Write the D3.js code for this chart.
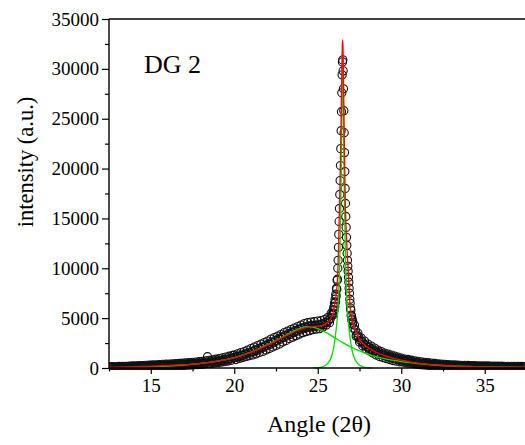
<!DOCTYPE html>
<html>
<head>
<meta charset="utf-8">
<script src="https://cdn.jsdelivr.net/npm/d3@7/dist/d3.min.js"></script>
<style>
html,body{margin:0;padding:0;background:#fff;}
svg{display:block;}
text{font-family:"Liberation Serif","Times New Roman",serif;fill:#000;}
</style>
</head>
<body>
<svg id="chart" width="525" height="445"></svg>
<script>
// ---- data ----
const xTicks = [15, 20, 25, 30, 35];
const xMinorTicks = [12.5, 17.5, 22.5, 27.5, 32.5];
const yTicks = [0, 5000, 10000, 15000, 20000, 25000, 30000, 35000];
const yMinorTicks = [2500, 7500, 12500, 17500, 22500, 27500, 32500];
const sampleLabel = "DG 2";
const xTitle = "Angle (2θ)";
const yTitle = "intensity (a.u.)";

// observed XRD pattern: [angle, counts]
const observedMain = [
[12.5,110],[12.6,30],[12.7,140],[12.8,50],[12.9,120],[13.0,20],[13.1,150],[13.2,60],[13.3,170],[13.4,40],
[13.5,160],[13.6,70],[13.7,190],[13.8,60],[13.9,200],[14.0,80],[14.1,210],[14.2,70],[14.3,230],[14.4,100],
[14.5,240],[14.6,90],[14.7,260],[14.8,120],[14.9,280],[15.0,110],[15.1,300],[15.2,140],[15.3,320],[15.4,150],
[15.5,340],[15.6,160],[15.7,360],[15.8,170],[15.9,380],[16.0,190],[16.1,390],[16.2,200],[16.3,410],[16.4,220],
[16.5,430],[16.6,230],[16.7,450],[16.8,250],[16.9,480],[17.0,260],[17.1,500],[17.2,280],[17.3,530],[17.4,300],
[17.5,560],[17.6,320],[17.7,590],[17.8,340],[17.9,630],[18.0,360],[18.1,670],[18.2,390],[18.3,720],[18.4,1130],[18.45,430],
[18.5,770],[18.6,460],[18.7,820],[18.8,500],[18.9,880],[19.0,540],[19.1,950],[19.2,580],[19.3,1020],[19.4,630],
[19.5,1100],[19.6,690],[19.7,1180],[19.8,760],[19.9,1260],
[20.0,1300],[20.1,850],[20.2,1420],[20.3,960],[20.4,1550],[20.5,1050],[20.6,1650],[20.7,1140],[20.8,1800],[20.9,1240],
[21.0,1950],[21.1,1320],[21.2,2100],[21.3,1420],[21.4,2250],[21.5,1560],[21.6,2400],[21.7,1660],[21.8,2550],[21.9,1800],
[22.0,2700],[22.1,1950],[22.2,2900],[22.3,2100],[22.4,3050],[22.5,2250],[22.6,3200],[22.7,2400],[22.8,3350],[22.9,2600],
[23.0,3550],[23.1,2750],[23.2,3700],[23.3,2950],[23.4,3850],[23.5,3100],[23.6,4000],[23.7,3250],[23.8,4150],[23.9,3400],
[24.0,4300],[24.1,3550],[24.2,4450],[24.3,3650],[24.4,4550],[24.5,3750],[24.6,4600],[24.7,3850],[24.8,4650],[24.9,3900],
[25.0,4700],[25.1,3950],[25.2,4750],[25.3,4100],[25.4,4850],[25.5,4300],[25.6,5050],[25.7,4550],[25.8,5450],[25.9,5300],
[25.92,5800],[25.94,5500],[25.96,6100],[25.98,5800],[26.00,6500],[26.02,6200],[26.04,6900],[26.06,6600],[26.08,7400],[26.10,7200],
[26.12,8000],[26.14,7900],[26.16,8800],[26.18,8900],[26.20,10000],[26.22,10800],[26.24,12100],[26.26,13400],[26.28,14700],[26.30,16000],
[26.32,17400],[26.34,18800],[26.36,20300],[26.38,22000],[26.40,23800],[26.42,25700],[26.44,27600],[26.46,29400],[26.48,30700],[26.50,30900],
[26.52,29800],[26.54,28000],[26.56,25800],[26.58,23600],[26.60,21600],[26.62,19700],[26.64,18000],[26.66,16500],[26.68,15200],[26.70,14100],
[26.72,13100],[26.74,12300],[26.76,11500],[26.78,10800],[26.80,10200],[26.82,9700],[26.84,9100],[26.86,8600],[26.88,8000],[26.90,7500],
[26.92,6900],[26.94,6500],[26.96,6000],[26.98,5800],[27.00,5300],[27.02,5200],[27.04,4800],[27.06,4900],[27.08,4400],[27.10,4600],
[27.2,4300],[27.3,3200],[27.4,3500],[27.5,2600],[27.6,3000],[27.7,2200],[27.8,2700],[27.9,1900],[28.0,2400],[28.1,1700],
[28.2,2200],[28.3,1500],[28.4,2000],[28.5,1300],[28.6,1800],[28.7,1150],[28.8,1650],[28.9,1050],[29.0,1500],[29.1,950],
[29.2,1400],[29.3,850],[29.4,1300],[29.5,750],[29.6,1200],[29.7,680],[29.8,1100],[29.9,620],[30.0,1000],
[30.1,600],[30.2,900],[30.3,520],[30.4,850],[30.5,480],[30.6,780],[30.7,430],[30.8,720],[30.9,390],[31.0,660],
[31.1,350],[31.2,620],[31.3,310],[31.4,570],[31.5,280],[31.6,530],[31.7,250],[31.8,490],[31.9,230],[32.0,450],
[32.1,200],[32.2,420],[32.3,180],[32.4,390],[32.5,170],[32.6,360],[32.7,150],[32.8,340],[32.9,140],[33.0,320],
[33.1,130],[33.2,300],[33.3,120],[33.4,290],[33.5,110],[33.6,270],[33.7,100],[33.8,260],[33.9,90],[34.0,250],
[34.1,90],[34.2,240],[34.3,80],[34.4,230],[34.5,80],[34.6,220],[34.7,70],[34.8,210],[34.9,70],[35.0,200],
[35.1,60],[35.2,200],[35.3,60],[35.4,190],[35.5,50],[35.6,190],[35.7,50],[35.8,180],[35.9,50],[36.0,180],
[36.1,40],[36.2,170],[36.3,40],[36.4,170],[36.5,40],[36.6,160],[36.7,30],[36.8,160],[36.9,30],[37.0,150],
[37.1,30],[37.2,150],[37.3,30],[37.4,140],[37.5,30]
];

// observed points between the main steps
const observedHalf = [
[12.55,80],[12.65,60],[12.75,95],[12.85,70],[12.95,100],[13.05,75],[13.15,110],[13.25,80],[13.35,120],[13.45,90],
[13.55,130],[13.65,100],[13.75,140],[13.85,110],[13.95,150],[14.05,120],[14.15,160],[14.25,130],[14.35,170],[14.45,140],
[14.55,185],[14.65,150],[14.75,195],[14.85,160],[14.95,210],[15.05,175],[15.15,220],[15.25,185],[15.35,235],[15.45,200],
[15.55,250],[15.65,215],[15.75,265],[15.85,230],[15.95,280],[16.05,245],[16.15,300],[16.25,260],[16.35,315],[16.45,275],
[16.55,330],[16.65,290],[16.75,350],[16.85,310],[16.95,370],[17.05,330],[17.15,390],[17.25,350],[17.35,410],[17.45,370],
[17.55,430],[17.65,390],[17.75,460],[17.85,420],[17.95,490],[18.05,450],[18.15,530],[18.25,480],[18.35,570],[18.55,610],
[18.65,560],[18.75,660],[18.85,610],[18.95,710],[19.05,660],[19.15,770],[19.25,720],[19.35,830],[19.45,780],[19.55,890],
[19.65,850],[19.75,970],[19.85,920],[19.95,1040],[20.05,1090],[20.15,1060],[20.25,1190],[20.35,1160],[20.45,1300],[20.55,1260],
[20.65,1420],[20.75,1390],[20.85,1550],[20.95,1500],[21.05,1670],[21.15,1630],[21.25,1810],[21.35,1770],[21.45,1950],[21.55,1900],
[21.65,2100],[21.75,2060],[21.85,2260],[21.95,2210],[22.05,2420],[22.15,2370],[22.25,2600],[22.35,2540],[22.45,2770],[22.55,2700],
[22.65,2940],[22.75,2880],[22.85,3110],[22.95,3050],[23.05,3280],[23.15,3210],[23.25,3440],[23.35,3370],[23.45,3600],[23.55,3530],
[23.65,3750],[23.75,3680],[23.85,3890],[23.95,3820],[24.05,4020],[24.15,3940],[24.25,4130],[24.35,4040],[24.45,4210],[24.55,4100],
[24.65,4260],[24.75,4130],[24.85,4290],[24.95,4180],[25.05,4330],[25.15,4230],[25.25,4400],[25.35,4350],[25.45,4550],[25.55,4560],
[25.65,4800],[25.75,4950],[25.85,5350],
[27.15,4000],[27.25,3800],[27.35,3300],[27.45,3100],[27.55,2750],[27.65,2650],[27.75,2380],[27.85,2300],[27.95,2100],[28.05,2080],
[28.15,1880],[28.25,1880],[28.35,1700],[28.45,1700],[28.55,1530],[28.65,1540],[28.75,1390],[28.85,1400],[28.95,1250],[29.05,1260],
[29.15,1130],[29.25,1160],[29.35,1030],[29.45,1060],[29.55,940],[29.65,970],[29.75,860],[29.85,890],[29.95,780],[30.05,800],
[30.15,720],[30.25,760],[30.35,660],[30.45,690],[30.55,590],[30.65,610],[30.75,530],[30.85,560],[30.95,480],[31.05,510],
[31.15,440],[31.25,470],[31.35,400],[31.45,430],[31.55,360],[31.65,390],[31.75,340],[31.85,360],[31.95,300],[32.05,330],
[32.15,280],[32.25,305],[32.35,260],[32.45,285],[32.55,240],[32.65,265],[32.75,220],[32.85,245],[32.95,200],[33.05,225],
[33.15,185],[33.25,210],[33.35,175],[33.45,200],[33.55,165],[33.65,190],[33.75,150],[33.85,175],[33.95,140],[34.05,165],
[34.15,130],[34.25,155],[34.35,125],[34.45,145],[34.55,115],[34.65,140],[34.75,110],[34.85,130],[34.95,100],[35.05,125],
[35.15,95],[35.25,120],[35.35,90],[35.45,115],[35.55,85],[35.65,110],[35.75,80],[35.85,105],[35.95,75],[36.05,100],
[36.15,70],[36.25,95],[36.35,65],[36.45,90],[36.55,60],[36.65,85],[36.75,60],[36.85,80],[36.95,55],[37.05,80],
[37.15,55],[37.25,75],[37.35,50],[37.45,70]
];

// total fit (red)
const fitTotal = [
[12.5,60],[13.5,100],[14.5,150],[15.5,210],[16.5,290],[17.5,390],[18.0,460],[18.5,560],[19.0,680],[19.5,830],
[20.0,1020],[20.5,1280],[21.0,1580],[21.5,1920],[22.0,2300],[22.5,2720],[23.0,3150],[23.5,3550],[24.0,3900],[24.3,4060],
[24.6,4150],[25.0,4200],[25.3,4280],[25.5,4450],[25.7,4750],[25.9,5400],[26.0,6200],[26.1,7300],[26.16,8350],[26.2,9600],
[26.24,11800],[26.28,14500],[26.32,17600],[26.36,20800],[26.40,25000],[26.44,29500],[26.47,32300],[26.49,32900],[26.51,32300],[26.54,29500],
[26.57,25200],[26.61,20500],[26.65,16500],[26.70,14000],[26.75,12000],[26.80,10500],[26.85,9000],[26.90,7200],[26.95,6000],[27.0,5200],
[27.1,4450],[27.25,3700],[27.5,2850],[27.8,2300],[28.1,1950],[28.5,1580],[29.0,1230],[29.5,980],[30.0,780],[30.5,620],
[31.0,490],[31.5,390],[32.0,310],[33.0,210],[34.0,150],[35.0,110],[36.0,80],[37.5,60]
];

// broad (amorphous) component, green
const fitBroad = [
[12.5,20],[14.0,60],[15.0,110],[16.0,190],[17.0,300],[18.0,460],[19.0,700],[20.0,1050],[21.0,1600],[22.0,2350],
[23.0,3200],[23.5,3650],[24.0,4000],[24.3,4150],[24.6,4120],[25.0,3950],[25.5,3550],[26.0,3050],[26.5,2550],[27.0,2100],
[27.5,1720],[28.0,1400],[28.5,1150],[29.0,940],[29.5,780],[30.0,640],[30.5,530],[31.0,440],[32.0,300],[33.0,210],
[34.0,150],[35.0,110],[36.0,80],[37.5,55]
];

// sharp (graphitic 002) component, green
const fitSharp = [
[24.74,0],[24.99,20],[25.29,120],[25.59,450],[25.79,1000],[25.94,1900],[26.04,3000],[26.13,4300],[26.19,5500],[26.24,7000],
[26.29,9200],[26.33,11800],[26.36,14500],[26.39,17800],[26.41,20500],[26.43,23500],[26.45,26500],[26.47,29000],[26.49,30200],[26.51,29000],
[26.53,26500],[26.55,23500],[26.57,20500],[26.59,17800],[26.62,14500],[26.65,11800],[26.69,9200],[26.74,7000],[26.79,5500],[26.85,4300],
[26.94,3000],[27.04,1900],[27.19,1000],[27.39,450],[27.69,120],[27.99,20],[28.24,0]
];

// ---- drawing ----
const svg = d3.select("#chart");
const mLeft = 109, mTop = 19, mBottom = 368, mRight = 526.5;
const x = d3.scaleLinear().domain([12.5, 37.5]).range([mLeft, mRight]);
const y = d3.scaleLinear().domain([0, 35000]).range([mBottom, mTop]);

svg.append("defs").append("clipPath").attr("id", "plotclip")
  .append("rect").attr("x", mLeft).attr("y", mTop).attr("width", 525 - mLeft).attr("height", mBottom - mTop + 2);

const plot = svg.append("g").attr("clip-path", "url(#plotclip)");

const observed = observedMain.concat(observedHalf);
plot.append("g").selectAll("circle").data(observed).join("circle")
  .attr("cx", d => x(d[0])).attr("cy", d => y(d[1])).attr("r", 4.1)
  .attr("fill", "none").attr("stroke", "#111").attr("stroke-width", 1.1);

const line = d3.line().x(d => x(d[0])).y(d => y(d[1])).curve(d3.curveMonotoneX);

plot.append("path").datum(fitBroad).attr("d", line)
  .attr("fill", "none").attr("stroke", "#00e000").attr("stroke-width", 1.3);
plot.append("path").datum(fitSharp).attr("d", line)
  .attr("fill", "none").attr("stroke", "#00e000").attr("stroke-width", 1.3);
plot.append("path").datum(fitTotal).attr("d", line)
  .attr("fill", "none").attr("stroke", "#ff0000").attr("stroke-width", 1.3);

// axes
const gx = svg.append("g").attr("transform", `translate(0,${mBottom})`)
  .call(d3.axisBottom(x).tickValues(xTicks).tickSize(6).tickPadding(5).tickFormat(d3.format("d")));
const gxm = svg.append("g").attr("transform", `translate(0,${mBottom})`)
  .call(d3.axisBottom(x).tickValues(xMinorTicks).tickSize(3.5).tickFormat(""));
const gy = svg.append("g").attr("transform", `translate(${mLeft},0)`)
  .call(d3.axisLeft(y).tickValues(yTicks).tickSize(7).tickPadding(3).tickFormat(d3.format("d")));
const gym = svg.append("g").attr("transform", `translate(${mLeft},0)`)
  .call(d3.axisLeft(y).tickValues(yMinorTicks).tickSize(4).tickFormat(""));

[gx, gxm, gy, gym].forEach(g => {
  g.attr("font-family", null);
  g.select(".domain").remove();
  g.selectAll("line").attr("stroke", "#000").attr("stroke-width", 1.2);
  g.selectAll("text").style("font-family", "'Liberation Serif', serif").attr("font-size", 19).attr("fill", "#000");
});

// frame lines (left, bottom, top)
svg.append("line").attr("x1", mLeft).attr("x2", mLeft).attr("y1", mTop).attr("y2", mBottom)
  .attr("stroke", "#000").attr("stroke-width", 1.4);
svg.append("line").attr("x1", mLeft).attr("x2", 525).attr("y1", mBottom).attr("y2", mBottom)
  .attr("stroke", "#000").attr("stroke-width", 1.4);
svg.append("line").attr("x1", mLeft).attr("x2", 525).attr("y1", mTop).attr("y2", mTop)
  .attr("stroke", "#000").attr("stroke-width", 1.4);

// titles
svg.append("text").attr("x", 319).attr("y", 432).attr("text-anchor", "middle")
  .attr("font-size", 24).text(xTitle);
svg.append("text").attr("transform", "translate(33,162) rotate(-90)").attr("text-anchor", "middle")
  .attr("font-size", 22.5).text(yTitle);
svg.append("text").attr("x", 144).attr("y", 73).attr("font-size", 26).text(sampleLabel);
</script>
</body>
</html>
